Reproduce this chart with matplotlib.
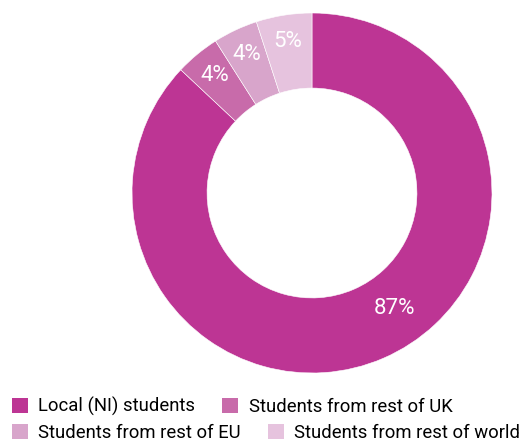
import matplotlib
matplotlib.use("Agg")
import matplotlib.pyplot as plt
from matplotlib.patches import Patch
import numpy as np

categories = ["Local (NI) students", "Students from rest of UK",
              "Students from rest of EU", "Students from rest of world"]
values = [87, 4, 4, 5]
labels = ["87%", "4%", "4%", "5%"]
colors = ["#BD3594", "#C86BAA", "#D8A5CB", "#E6C3DE"]

plt.rcParams['font.family'] = ['Roboto', 'DejaVu Sans']

W, H = 521, 442
fig = plt.figure(figsize=(W/100, H/100), dpi=100)
cx, cy, R = 312, 193, 180
ax = fig.add_axes([(cx-R)/W, (H-cy-R)/H, 2*R/W, 2*R/H])
wedges, _ = ax.pie(values, colors=colors, startangle=90, counterclock=False,
                   radius=1.0, wedgeprops=dict(width=0.417, edgecolor='white', linewidth=0.4))
ax.set_xlim(-1, 1); ax.set_ylim(-1, 1); ax.set_aspect('equal'); ax.axis('off')

# labels
for i, w in enumerate(wedges):
    ang = np.deg2rad((w.theta1 + w.theta2) / 2)
    r = 0.85
    if i == 0:
        ang = np.deg2rad(-54.5); r = 0.785
    ax.text(r*np.cos(ang), r*np.sin(ang), labels[i], color='white', fontsize=16,
            ha='center', va='center')

def mk(idx):
    return [Patch(facecolor=colors[i], edgecolor='none') for i in idx]

common = dict(frameon=False, handlelength=0.88, handleheight=0.88,
              handletextpad=0.55, columnspacing=1.45, borderpad=0, borderaxespad=0,
              loc='upper left', prop=dict(size=13.3))
fig.legend(mk([0, 1]), categories[0:2], ncol=2, bbox_to_anchor=(12/W, 1-397/H), **common)
fig.legend(mk([2, 3]), categories[2:4], ncol=2, bbox_to_anchor=(12/W, 1-424/H), **common)

fig.savefig("out.png", dpi=100)
